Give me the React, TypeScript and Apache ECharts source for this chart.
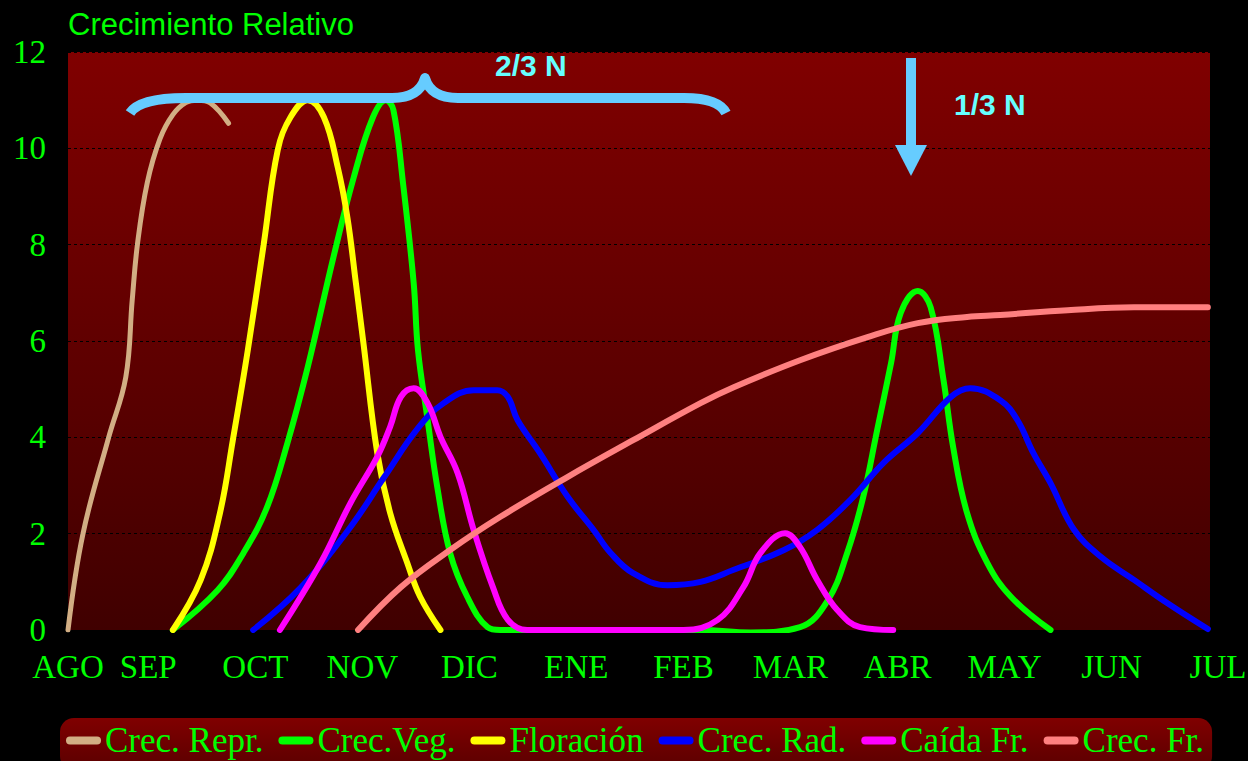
import React, { useEffect, useRef } from 'react';
import * as echarts from 'echarts';

// ---- data ----
const monthLabels = ['AGO', 'SEP', 'OCT', 'NOV', 'DIC', 'ENE', 'FEB', 'MAR', 'ABR', 'MAY', 'JUN', 'JUL'];
const monthTicks = [0.25, 1, 2, 3, 4, 5, 6, 7, 8, 9, 10, 10.92];
const yTicks = [0, 2, 4, 6, 8, 10, 12];

const seriesNames = ['Crec. Repr.', 'Crec.Veg.', 'Floración', 'Crec. Rad.', 'Caída Fr.', 'Crec. Fr.'];
const seriesColors = ['#d2ae84', '#00ff00', '#ffff00', '#0000ff', '#ff00ff', '#ff8080'];

const crecRepr = [
  [0.25, 0], [0.39, 2], [0.63, 4], [0.79, 5.25], [0.85, 6.85], [0.9, 8.03], [0.99, 9.28],
  [1.11, 10.2], [1.23, 10.7], [1.35, 10.95], [1.46, 11.0], [1.58, 10.94], [1.75, 10.52],
];
const crecVeg = [
  [1.23, 0], [1.65, 0.83], [1.89, 1.6], [2.11, 2.55], [2.3, 3.88], [2.49, 5.46], [2.73, 7.74],
  [2.92, 9.4], [3.1, 10.65], [3.22, 11.0], [3.29, 10.8], [3.38, 9.28], [3.48, 7.2], [3.52, 5.81],
  [3.61, 4.36], [3.7, 2.97], [3.82, 1.6], [3.98, 0.69], [4.17, 0.06], [4.29, 0], [5.22, 0],
  [6.16, 0], [6.63, -0.05], [7.09, 0.06], [7.35, 0.62], [7.53, 1.6], [7.68, 2.76], [7.81, 4.15],
  [7.94, 5.54], [8.03, 6.58], [8.19, 7.04], [8.31, 6.7], [8.43, 5.19], [8.52, 3.8], [8.65, 2.43],
  [8.84, 1.39], [9.06, 0.69], [9.43, 0],
];
const floracion = [
  [1.23, 0], [1.49, 1.04], [1.67, 2.43], [1.79, 3.94], [1.93, 5.81], [2.08, 8.03], [2.21, 9.97],
  [2.33, 10.65], [2.49, 11.0], [2.64, 10.65], [2.77, 9.61], [2.86, 8.57], [2.94, 7.2], [3.01, 5.96],
  [3.14, 3.67], [3.26, 2.43], [3.42, 1.39], [3.54, 0.69], [3.73, 0],
];
const crecRad = [
  [1.98, 0], [2.42, 0.87], [2.87, 2.08], [3.2, 3.16], [3.52, 4.19], [3.76, 4.71], [4.04, 4.98],
  [4.26, 4.98], [4.36, 4.84], [4.45, 4.36], [4.66, 3.67], [4.92, 2.76], [5.16, 2.08], [5.32, 1.6],
  [5.53, 1.18], [5.85, 0.93], [6.16, 1.0], [6.47, 1.25], [6.94, 1.66], [7.25, 2.08], [7.56, 2.7],
  [7.87, 3.47], [8.19, 4.09], [8.5, 4.84], [8.68, 5.02], [8.96, 4.77], [9.12, 4.36], [9.27, 3.67],
  [9.43, 3.05], [9.65, 2.08], [9.9, 1.52], [10.21, 1.04], [10.52, 0.56], [10.9, 0.02],
];
const caidaFr = [
  [2.23, 0], [2.61, 1.39], [2.89, 2.64], [3.14, 3.6], [3.26, 4.22], [3.36, 4.84], [3.48, 5.02],
  [3.61, 4.71], [3.73, 4.01], [3.89, 3.26], [4.04, 2.08], [4.22, 0.89], [4.36, 0.21], [4.54, 0],
  [5.22, 0], [6.0, 0], [6.32, 0.21], [6.56, 0.89], [6.72, 1.6], [6.95, 2.01], [7.09, 1.72],
  [7.25, 1.04], [7.44, 0.41], [7.65, 0.06], [7.96, 0],
];
const crecFr = [
  [2.96, 0], [3.36, 0.89], [3.82, 1.66], [4.29, 2.35], [4.92, 3.18], [5.53, 3.94], [6.16, 4.71],
  [6.47, 5.04], [7.09, 5.6], [7.72, 6.08], [8.19, 6.37], [8.65, 6.5], [8.96, 6.54], [9.59, 6.64],
  [10.21, 6.7], [10.9, 6.7],
];
const seriesData = [crecRepr, crecVeg, floracion, crecRad, caidaFr, crecFr];

const titleText = 'Crecimiento Relativo';
const note1 = '2/3 N';
const note2 = '1/3 N';

const bracePath =
  'M130,113 C137,102 158,98 186,98 L392,98 C410,98 421,92 425,78 C429,92 440,98 458,98 L684,98 C706,98 721,103 726,113';
echarts.graphic.registerShape('brace', echarts.graphic.extendPath(bracePath, {}));

const SERIF = '"Liberation Serif", "Times New Roman", serif';
const SANS = '"Liberation Sans", Arial, sans-serif';

export default function App() {
  const ref = useRef<HTMLDivElement>(null);
  useEffect(() => {
    document.body.style.margin = '0';
    document.body.style.background = '#000';
    const chart = echarts.init(ref.current!, null, { renderer: 'svg' });
    const capsule = 'path://M4,0 L31,0 A4,4 0 0 1 31,8 L4,8 A4,4 0 0 1 4,0 Z';
    const option: any = {
      animation: false,
      backgroundColor: '#000',
      grid: {
        left: 68,
        right: 38,
        top: 52,
        bottom: 131,
        show: true,
        borderWidth: 0,
        outerBoundsMode: 'none',
        backgroundColor: new echarts.graphic.LinearGradient(0, 0, 0, 1, [
          { offset: 0, color: '#800000' },
          { offset: 1, color: '#400000' },
        ]),
      },
      legend: {
        left: 60,
        top: 718,
        padding: [5, 8, 12, 6],
        itemGap: 15,
        itemWidth: 35,
        itemHeight: 8,
        icon: capsule,
        backgroundColor: new echarts.graphic.LinearGradient(0, 0, 0, 1, [
          { offset: 0, color: '#800000' },
          { offset: 1, color: '#5a0000' },
        ]),
        borderRadius: 14,
        textStyle: { color: '#00ff00', fontFamily: SERIF, fontSize: 35, padding: [0, 0, 0, -1] },
        data: seriesNames,
      },
      xAxis: {
        type: 'value',
        min: 0.25,
        max: 10.92,
        axisLine: { show: false },
        axisTick: { show: false },
        splitLine: { show: false },
        axisLabel: {
          customValues: monthTicks,
          showMinLabel: true,
          showMaxLabel: true,
          color: '#00ff00',
          fontFamily: SERIF,
          fontSize: 33,
          margin: 20,
          formatter: (v: number) => {
            const i = monthTicks.findIndex((t) => Math.abs(t - v) < 1e-6);
            if (i < 0) return '';
            if (i === monthTicks.length - 1) return '{j|' + monthLabels[i] + '}';
            return monthLabels[i];
          },
          rich: {
            j: { color: '#00ff00', fontFamily: SERIF, fontSize: 33, padding: [0, 0, 0, 16] },
          },
        },
      },
      yAxis: {
        type: 'value',
        min: yTicks[0],
        max: yTicks[yTicks.length - 1],
        interval: 2,
        axisLine: { show: false },
        axisTick: { show: false },
        axisLabel: { color: '#00ff00', fontFamily: SERIF, fontSize: 33, margin: 22 },
        splitLine: { show: true, lineStyle: { color: '#000', width: 1, type: [3, 3] } },
      },
      series: seriesNames.map((name, i) => ({
        name,
        type: 'line',
        data: seriesData[i],
        smooth: 0.4,
        showSymbol: false,
        symbol: 'none',
        color: seriesColors[i],
        lineStyle: { color: seriesColors[i], width: i === 0 ? 5 : 6, cap: 'round', join: 'round' },
      })),
      graphic: [
        {
          type: 'text',
          x: 68,
          y: 24,
          z: 100,
          style: { text: titleText, fill: '#00ff00', font: '31px ' + SANS, verticalAlign: 'middle', align: 'left' },
        },
        {
          type: 'brace',
          x: 0,
          y: 0,
          z: 100,
          style: { stroke: '#66ccff', fill: null, lineWidth: 10, lineJoin: 'round', lineCap: 'butt' },
        },
        {
          type: 'text',
          x: 495,
          y: 65,
          z: 100,
          style: { text: note1, fill: '#66ffff', font: 'bold 30px ' + SANS, verticalAlign: 'middle', align: 'left' },
        },
        {
          type: 'rect',
          z: 100,
          shape: { x: 906, y: 58, width: 10, height: 89 },
          style: { fill: '#66ccff' },
        },
        {
          type: 'polygon',
          z: 100,
          shape: { points: [[895, 145], [927, 145], [911, 176]] },
          style: { fill: '#66ccff' },
        },
        {
          type: 'text',
          x: 954,
          y: 104,
          z: 100,
          style: { text: note2, fill: '#66ffff', font: 'bold 30px ' + SANS, verticalAlign: 'middle', align: 'left' },
        },
      ],
    };
    chart.setOption(option);
    return () => chart.dispose();
  }, []);
  return <div ref={ref} style={{ width: 1248, height: 761 }} />;
}
